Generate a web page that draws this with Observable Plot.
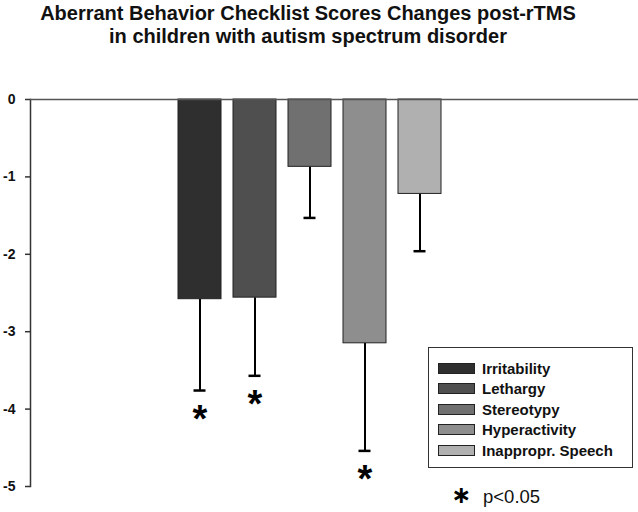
<!DOCTYPE html>
<html><head><meta charset="utf-8">
<script src="https://cdn.jsdelivr.net/npm/d3@7"></script>
<script src="https://cdn.jsdelivr.net/npm/@observablehq/plot@0.6"></script>
<style>
body{margin:0;background:#fff;font-family:"Liberation Sans",Arial,sans-serif;}
#wrap{position:relative;width:638px;height:512px;overflow:hidden;background:#fff}
#title{position:absolute;left:0;top:0;width:616px;height:62px;text-align:center;font-weight:bold;font-size:20px;line-height:23px;padding-top:2px;box-sizing:border-box;color:#111}
#chart{position:absolute;left:0;top:62px}
#legend{position:absolute;left:428px;top:347px;width:205px;height:121px;border:1px solid #333;box-sizing:border-box;background:#fff;padding-top:10px}
.row{height:20.5px;display:flex;align-items:center;font-weight:bold;font-size:15px;color:#111}
.sw{width:35px;height:9px;border:1px solid #222;margin-left:9px;margin-right:7px}
#star{position:absolute;left:451px;top:483px;height:24px;line-height:24px;font-family:"DejaVu Sans",sans-serif;font-size:24px;font-weight:bold;color:#000}
#pval{position:absolute;left:483px;top:487px;height:20px;line-height:20px;font-size:18.5px;color:#111}
</style>
</head><body>
<div id="wrap">
  <div id="title">Aberrant Behavior Checklist Scores Changes post-rTMS<br>in children with autism spectrum disorder</div>
  <div id="chart"></div>
  <div id="legend"></div>
  <span id="star">∗</span><span id="pval">p&lt;0.05</span>
</div>
<script>
const categories = ["Irritability", "Lethargy", "Stereotypy", "Hyperactivity", "Inappropr. Speech"];
const means = [-2.58, -2.56, -0.87, -3.15, -1.22];
const errors = [1.18, 1.01, 0.66, 1.39, 0.74];
const significant = [true, true, false, true, false];
const colors = ["#2f2f2f", "#4f4f4f", "#707070", "#8e8e8e", "#b0b0b0"];
const yTicks = [0, -1, -2, -3, -4, -5];

const data = categories.map((c, i) => ({cat: c, mean: means[i], err: errors[i], low: means[i] - errors[i], sig: significant[i]}));

const chart = Plot.plot({
  width: 638,
  height: 450,
  marginTop: 37,
  marginBottom: 26,
  marginLeft: 30,
  marginRight: 0,
  style: {fontFamily: "'Liberation Sans', Arial, sans-serif", background: "#fff"},
  x: {domain: categories, range: [164, 455], paddingInner: 0.21, paddingOuter: 0.21, axis: null},
  y: {domain: [-5, 0], axis: null},
  color: {domain: categories, range: colors},
  marks: [
    Plot.frame({anchor: "left", stroke: "#333", strokeWidth: 1.5}),
    Plot.axisY({ticks: yTicks, tickSize: 5, tickPadding: 10, tickFormat: d => String(d), fontSize: 14, fontWeight: "bold", stroke: "#333", strokeWidth: 1.5, fill: "#111"}),
    Plot.ruleX(data, {x: "cat", y1: "mean", y2: "low", stroke: "#000", strokeWidth: 2}),
    Plot.tickY(data, {x: "cat", y: "low", stroke: "#000", strokeWidth: 2.5, insetLeft: 15.5, insetRight: 15.5}),
    Plot.barY(data, {x: "cat", y: "mean", fill: "cat", stroke: "#222", strokeWidth: 1}),
    Plot.ruleY([0], {stroke: "#555", strokeWidth: 1.5}),
    Plot.text(data.filter(d => d.sig), {x: "cat", y: "low", text: () => "*", dy: 29, fontSize: 38, fontWeight: "bold", fill: "#000"})
  ]
});
document.getElementById("chart").appendChild(chart);

const legend = document.getElementById("legend");
categories.forEach((c, i) => {
  const row = document.createElement("div");
  row.className = "row";
  const sw = document.createElement("span");
  sw.className = "sw";
  sw.style.background = colors[i];
  const label = document.createElement("span");
  label.textContent = c;
  row.appendChild(sw);
  row.appendChild(label);
  legend.appendChild(row);
});
</script>
</body></html>
